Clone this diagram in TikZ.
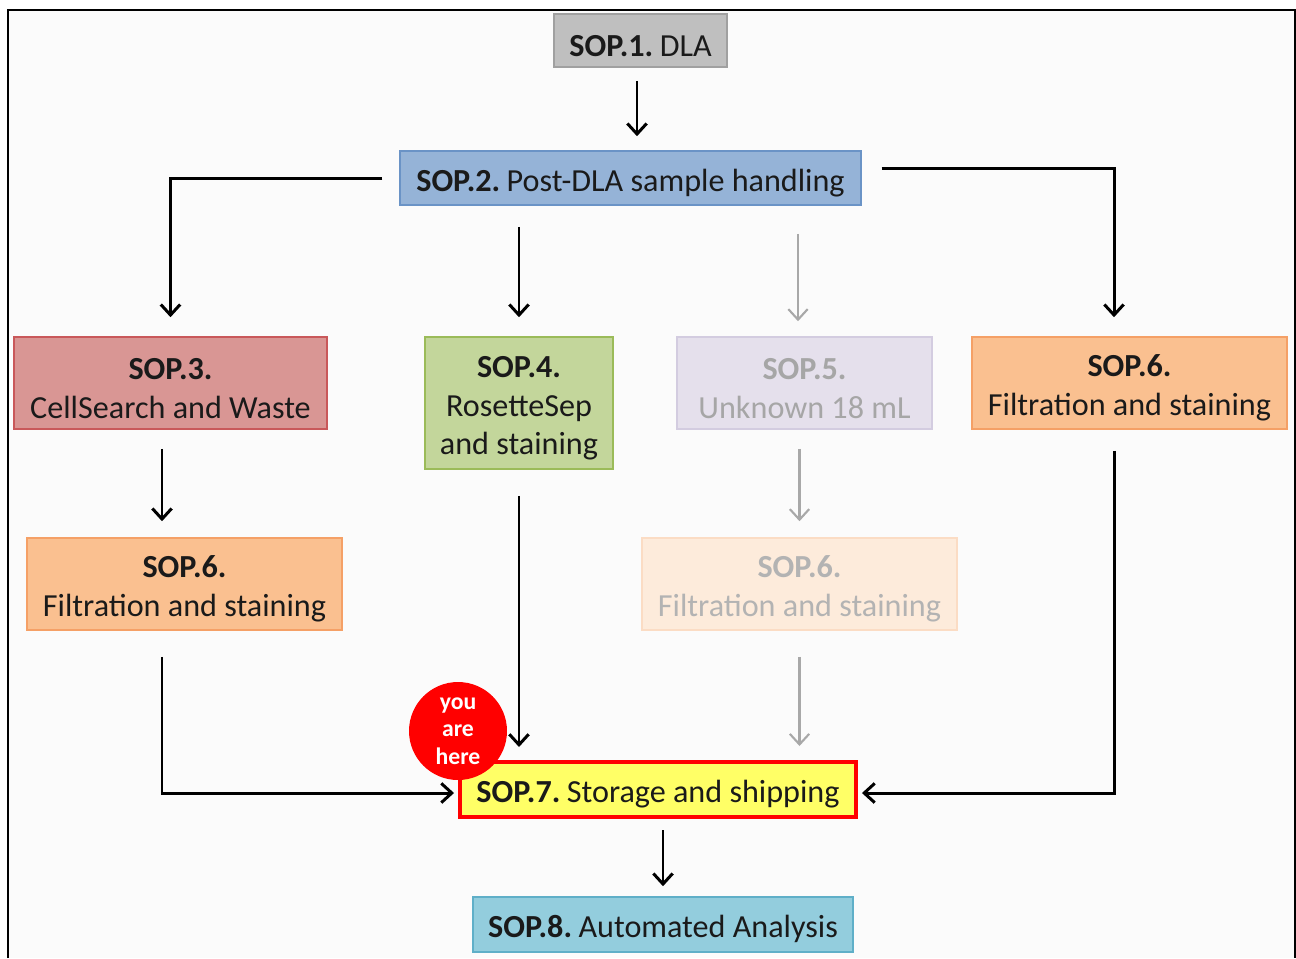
\documentclass[tikz,border=0pt]{standalone}
\usepackage{fontspec}
\setmainfont{Carlito}
\usetikzlibrary{arrows.meta}
\definecolor{txt}{HTML}{1A1A1A}
\definecolor{g1fill}{HTML}{BFBFBF}\definecolor{g1draw}{HTML}{A0A0A0}
\definecolor{b2fill}{HTML}{95B3D7}\definecolor{b2draw}{HTML}{6A93C6}
\definecolor{r3fill}{HTML}{D99694}\definecolor{r3draw}{HTML}{C9585A}
\definecolor{g4fill}{HTML}{C3D69B}\definecolor{g4draw}{HTML}{9BBB59}
\definecolor{p5fill}{HTML}{E5E0EC}\definecolor{p5draw}{HTML}{D3CCE0}
\definecolor{o6fill}{HTML}{FAC090}\definecolor{o6draw}{HTML}{F5A066}
\definecolor{f6fill}{HTML}{FDEBDB}\definecolor{f6draw}{HTML}{FBDCC4}
\definecolor{y7fill}{HTML}{FFFF66}
\definecolor{c8fill}{HTML}{93CDDD}\definecolor{c8draw}{HTML}{5FAFC8}
\definecolor{bg}{HTML}{FBFBFB}
\definecolor{fadedtxt}{HTML}{A6A6A6}
\definecolor{fadedarrow}{HTML}{A8A8A8}
\newcommand\soplbl[1]{\textbf{#1}\hspace{0.2em}}
\newcommand\topstrut{\rule{0pt}{18pt}}
\begin{document}
\begin{tikzpicture}[x=0.02cm,y=-0.02cm,
  box/.style={draw, line width=0.9pt, inner sep=0pt, align=center, text=txt,
    font=\fontsize{18.3}{22}\selectfont},
  flow/.style={draw=black, line width=1.7pt, -{Straight Barb[length=6pt,width=11pt,line width=1.7pt]}},
  faded/.style={draw=fadedarrow, line width=1.2pt, -{Straight Barb[length=6pt,width=11pt,line width=1.2pt]}}]
\useasboundingbox (0,0) rectangle (1296,958);
\fill[bg] (8,10) rectangle (1295,958);
\draw[line width=1.1pt] (8,958) -- (8,10) -- (1295,10) -- (1295,958);

\node[box, fill=g1fill, draw=g1draw, minimum width=3.46cm, minimum height=1.06cm] (sop1) at (640.5,40.5) {\topstrut\soplbl{SOP.1.}DLA};
\node[box, fill=b2fill, draw=b2draw, minimum width=9.22cm, minimum height=1.08cm] (sop2) at (630.5,178) {\topstrut\soplbl{SOP.2.}Post-DLA sample handling};
\node[box, fill=r3fill, draw=r3draw, minimum width=6.26cm, minimum height=1.84cm] (sop3) at (170.5,383) {\topstrut\textbf{SOP.3.}\\CellSearch and Waste};
\node[box, fill=g4fill, draw=g4draw, minimum width=3.76cm, minimum height=2.64cm] (sop4) at (519,403) {\topstrut\textbf{SOP.4.}\\RosetteSep\\and staining};
\node[box, fill=p5fill, draw=p5draw, text=fadedtxt, minimum width=5.1cm, minimum height=1.84cm] (sop5) at (804.5,383) {\topstrut\textbf{SOP.5.}\\Unknown 18 mL};
\node[box, fill=o6fill, draw=o6draw, minimum width=6.3cm, minimum height=1.84cm] (sop6r) at (1129.5,383) {\topstrut\textbf{SOP.6.}\\Filtration and staining};
\node[box, fill=o6fill, draw=o6draw, minimum width=6.3cm, minimum height=1.84cm] (sop6l) at (184.5,584) {\topstrut\textbf{SOP.6.}\\Filtration and staining};
\node[box, fill=f6fill, draw=f6draw, text=fadedtxt!85, minimum width=6.3cm, minimum height=1.84cm] (sop6f) at (799.5,584) {\topstrut\textbf{SOP.6.}\\Filtration and staining};
\node[box, fill=y7fill, draw=red, line width=2.3pt, minimum width=7.92cm, minimum height=1.1cm] (sop7) at (658,789.5) {\topstrut\soplbl{SOP.7.}Storage and shipping};
\node[box, fill=c8fill, draw=c8draw, minimum width=7.6cm, minimum height=1.1cm] (sop8) at (663,924.5) {\topstrut\soplbl{SOP.8.}Automated Analysis};
\node[circle, fill=red, minimum size=1.96cm, inner sep=0pt, align=center, text=white,
  font=\bfseries\fontsize{13.5}{15.5}\selectfont] (here) at (458,731) {you\\are\\here};

% arrows
\draw[flow, shorten <=0.26cm, shorten >=0.28cm] ([xshift=-0.07cm]sop1.south) -- ([xshift=-0.07cm]sop1.south |- sop2.north);
\draw[flow, shorten <=0.34cm, shorten >=0.38cm] (sop2.west) -| (sop3.north);
\draw[flow, shorten <=0.42cm, shorten >=0.38cm] (sop2.south -| sop4.north) -- (sop4.north);
\draw[faded, shorten <=0.56cm, shorten >=0.3cm] ([xshift=-0.13cm]sop2.south -| sop5.north) -- ([xshift=-0.13cm]sop5.north);
\draw[flow, shorten <=0.4cm, shorten >=0.38cm] ([yshift=0.2cm]sop2.east) -| ([xshift=-0.31cm]sop6r.north);
\draw[flow, shorten <=0.38cm, shorten >=0.32cm] ([xshift=-0.17cm]sop3.south) -- ([xshift=-0.17cm]sop3.south |- sop6l.north);
\draw[flow, shorten <=0.52cm, shorten >=0.26cm] (sop4.south) -- (sop4.south |- sop7.north);
\draw[faded, shorten <=0.38cm, shorten >=0.32cm] (sop5.south -| sop6f.north) -- (sop6f.north);
\draw[faded, shorten <=0.52cm, shorten >=0.28cm] (sop6f.south) -- (sop6f.south |- sop7.north);
\draw[flow, shorten <=0.52cm, shorten >=0.08cm] ([xshift=-0.45cm]sop6l.south) |- ([yshift=-0.07cm]sop7.west);
\draw[flow, shorten <=0.42cm, shorten >=0.08cm] ([xshift=-0.31cm]sop6r.south) |- ([yshift=-0.07cm]sop7.east);
\draw[flow, shorten <=0.22cm, shorten >=0.2cm] (sop7.south -| sop8.north) -- (sop8.north);
\end{tikzpicture}
\end{document}
